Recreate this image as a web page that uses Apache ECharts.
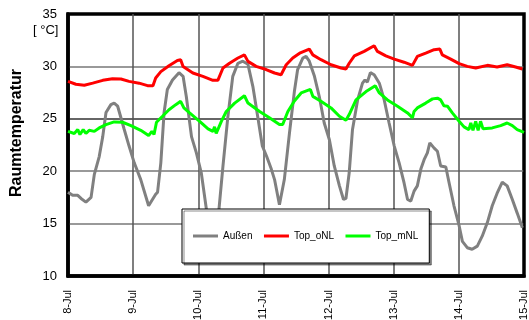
<!DOCTYPE html>
<html>
<head>
<meta charset="utf-8">
<script src="https://cdn.jsdelivr.net/npm/echarts@6/dist/echarts.min.js"></script>
<style>
html,body{margin:0;padding:0;background:#fff;}
#chart{width:529px;height:320px;}
</style>
</head>
<body>
<div id="chart"></div>
<script>
// x-axis tick labels (one per day, every 24 h)
const dayLabels = ['8-Jul','9-Jul','10-Jul','11-Jul','12-Jul','13-Jul','14-Jul','15-Jul'];
const yTicks = [10, 15, 20, 25, 30, 35];
const seriesNames = ['Außen', 'Top_oNL', 'Top_mNL'];

// Außen: hours since 8-Jul 00:00 and temperature [°C]
const aussenHours = [0,1.7,3.6,4.8,6.6,8.5,9.7,11.5,12.8,14.0,15.8,17.0,18.3,20.7,22.5,24.4,26.8,29.7,32.3,33.0,34.2,35.4,36.6,38.5,40.9,42.4,43.6,45.5,47.3,49.1,51.0,53.3,55.6,57.1,58.9,60.7,62.6,64.4,66.3,68.1,69.9,71.6,73.2,74.9,76.1,77.9,78.5,79.7,81.6,83.4,84.6,86.5,87.7,88.9,90.8,92.6,94.4,96.3,98.1,100.0,101.5,102.4,103.6,104.8,106.7,108.5,109.4,110.3,111.4,112.8,114.7,116.5,118.3,120.2,122.0,123.8,125.1,126.3,127.5,128.7,130.0,131.2,132.4,133.3,134.9,136.1,137.3,139.2,140.4,142.2,144.1,145.3,147.1,148.9,150.8,152.6,154.5,156.3,158.1,160.0,161.8,163.7,165.5,167.4];
const aussenTemp = [18.0,17.7,17.7,17.4,17.05,17.5,19.7,21.4,23.3,25.6,26.35,26.5,26.2,24.0,22.4,20.8,19.2,16.7,17.8,18.0,20.8,25.6,27.8,28.7,29.4,29.05,27.1,23.3,21.75,19.85,16.35,13.0,16.3,20.5,25.2,29.05,30.3,30.5,30.2,28.1,25.2,22.4,21.4,20.2,19.2,16.8,16.9,19.2,23.65,27.6,29.7,30.8,30.95,30.5,29.05,27.1,24.6,23.0,20.5,18.6,17.3,17.4,19.85,23.95,26.8,28.4,28.7,28.5,29.4,29.2,28.4,26.8,24.6,22.4,20.8,18.9,17.3,17.15,18.1,18.6,20.2,21.1,21.75,22.7,22.2,21.9,20.5,20.4,18.9,16.7,14.8,13.3,12.7,12.55,12.85,13.8,15.1,16.7,17.9,18.95,18.6,17.3,16.0,14.6];

// Top_oNL
const onlHours = [0,2.9,6.0,9.1,12.8,16.4,19.5,22.5,26.2,29.3,31.3,32.3,34.2,37.2,40.3,41.5,42.4,46.0,49.7,53.4,55.2,57.1,59.5,62.6,65.0,66.3,69.3,73.0,76.1,78.5,80.4,82.8,85.6,88.9,90.2,93.2,96.9,100.6,102.4,103.6,105.5,109.1,112.8,114.0,117.1,120.2,123.8,126.9,127.5,128.7,131.8,134.9,137.0,137.9,141.0,144.1,147.1,150.2,154.5,158.1,161.8,164.9,167.4];
const onlTemp = [28.57,28.3,28.2,28.4,28.67,28.83,28.8,28.57,28.4,28.16,28.16,28.9,29.5,30.07,30.57,30.64,30.0,29.37,29.05,28.67,28.67,29.85,30.3,30.8,31.1,30.48,30.0,29.7,29.37,29.2,30.16,30.8,31.3,31.65,31.1,30.64,30.16,29.85,29.75,30.3,31.0,31.43,31.97,31.43,31.0,30.7,30.4,30.1,30.26,30.95,31.27,31.6,31.65,31.1,30.7,30.26,30.0,29.85,30.1,29.94,30.16,29.94,29.75];

// Top_mNL
const mnlHours = [0,2.3,3.6,4.4,5.6,6.6,7.8,9.7,11.5,14.0,17.0,20.1,23.2,26.8,29.7,30.9,31.7,32.6,34.8,37.2,39.7,41.5,42.7,44.8,48.5,51.6,53.4,54.0,54.6,56.5,58.3,61.4,65.0,66.3,70.6,74.2,77.9,79.1,81.0,83.4,85.9,89.3,90.2,93.2,96.9,100.0,102.4,103.6,106.1,109.8,113.2,114.7,117.7,121.4,125.1,126.9,127.5,128.7,131.8,134.3,136.1,137.3,138.5,139.8,141.6,144.1,145.9,147.7,148.4,149.2,150.2,151.1,152.0,152.9,156.3,159.4,161.8,163.7,165.5,168];
const mnlTemp = [23.8,23.6,23.97,23.5,23.97,23.6,23.9,23.8,24.13,24.45,24.7,24.67,24.35,23.9,23.4,23.8,23.5,24.67,25.24,25.87,26.35,26.67,26.04,25.56,24.76,24.04,23.8,24.23,23.6,24.76,25.7,26.5,27.2,26.5,25.7,25.1,24.45,24.45,25.7,26.7,27.47,27.8,27.14,26.67,26.04,25.24,24.86,25.4,26.8,27.6,28.16,27.47,26.8,26.2,25.56,25.1,25.7,26.04,26.5,26.9,26.97,26.8,26.25,26.2,25.56,24.76,24.23,23.97,24.6,23.9,24.76,23.9,24.76,24.04,24.13,24.35,24.6,24.35,23.97,23.7];

function pairs(xs, ys){ return xs.map((x,i)=>[x, ys[i]]); }

const chart = echarts.init(document.getElementById('chart'), null, {renderer:'canvas'});
const font = '"Liberation Sans", Arial, sans-serif';

chart.setOption({
  animation: false,
  backgroundColor: '#fff',
  textStyle: {fontFamily: font},
  grid: {left: 68, right: 5, top: 14, bottom: 44, containLabel: false, outerBoundsMode: 'none',
         show: true, borderColor: '#000', borderWidth: 3.5, backgroundColor: 'transparent'},
  xAxis: {
    type: 'value', min: 0, max: 168, interval: 24,
    axisLine: {show: true, onZero: false, lineStyle: {color: '#000', width: 3.5}},
    axisTick: {show: false},
    splitLine: {show: true, lineStyle: {color: ['#000','#555','#555','#555','#555','#555','#555','#000'], width: 1.5}},
    axisLabel: {
      rotate: 90, margin: 14, fontSize: 11, color: '#000', fontFamily: font,
      showMinLabel: true, showMaxLabel: true,
      formatter: v => dayLabels[Math.round(v/24)]
    }
  },
  yAxis: {
    type: 'value', min: yTicks[0], max: yTicks[yTicks.length-1], interval: 5,
    axisLine: {show: true, lineStyle: {color: '#000', width: 3.5}},
    axisTick: {show: false},
    splitLine: {show: true, lineStyle: {color: ['#000','#777','#777','#333','#777','#000'], width: 1.5}},
    axisLabel: {margin: 11, fontSize: 13, color: '#000', fontFamily: font}
  },
  legend: {
    left: 182, top: 209, orient: 'horizontal',
    backgroundColor: '#fff', borderColor: '#000', borderWidth: 1,
    shadowColor: 'rgba(0,0,0,0.45)', shadowOffsetX: 2, shadowOffsetY: 2, shadowBlur: 0,
    padding: [22, 11, 22, 11],
    itemWidth: 25, itemHeight: 3, itemGap: 11.5, itemTextGap: 10,
    icon: 'rect',
    textStyle: {fontSize: 10, color: '#000', fontFamily: font},
    data: seriesNames
  },
  graphic: [
    {type: 'text', left: 33, top: 24, style: {text: '[ °C]', font: '13px ' + font, fill: '#000'}},
    {type: 'text', x: 17, y: 133, rotation: Math.PI/2, style: {text: 'Raumtemperatur', font: 'bold 16px ' + font, fill: '#000', align: 'center', verticalAlign: 'middle'}}
  ],
  series: [
    {name: seriesNames[0], type: 'line', data: pairs(aussenHours, aussenTemp), showSymbol: false, symbol: 'none', smooth: false,
     lineStyle: {color: '#808080', width: 3}, itemStyle: {color: '#808080'}, z: 2},
    {name: seriesNames[1], type: 'line', data: pairs(onlHours, onlTemp), showSymbol: false, symbol: 'none',
     lineStyle: {color: '#ff0000', width: 3}, itemStyle: {color: '#ff0000'}, z: 2},
    {name: seriesNames[2], type: 'line', data: pairs(mnlHours, mnlTemp), showSymbol: false, symbol: 'none',
     lineStyle: {color: '#00ff00', width: 3}, itemStyle: {color: '#00ff00'}, z: 2}
  ]
});
</script>
</body>
</html>
